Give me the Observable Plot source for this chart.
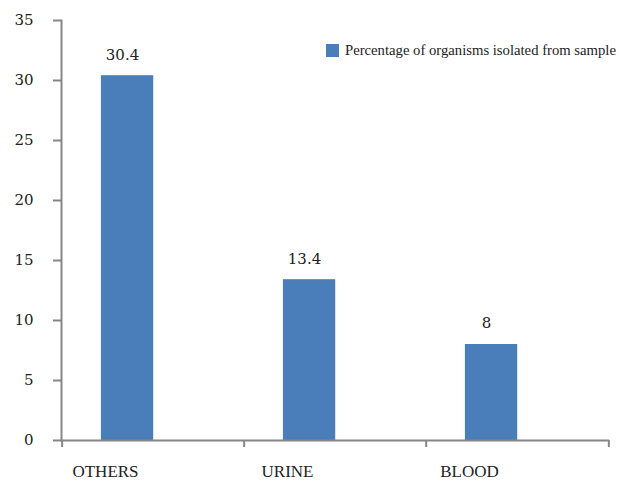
<!DOCTYPE html>
<html>
<head>
<meta charset="utf-8">
<script src="https://cdn.jsdelivr.net/npm/d3@7"></script>
<script src="https://cdn.jsdelivr.net/npm/@observablehq/plot@0.6"></script>
<style>
  html, body { margin: 0; padding: 0; background: #fff; }
  #wrap { position: relative; width: 619px; height: 481px; }
  #legend { position: absolute; left: 326px; top: 42px; display: flex; align-items: center;
            font-family: "Liberation Serif", serif; font-size: 14.7px; color: #222; white-space: nowrap; }
  #legend .sw { width: 13px; height: 13px; background: #4a7ebb; margin-right: 6px; }
</style>
</head>
<body>
<div id="wrap"><div id="legend"><div class="sw"></div><span id="legtext"></span></div></div>
<script>
const categories = ["OTHERS", "URINE", "BLOOD"];
const percentages = [30.4, 13.4, 8];
const yTicks = [0, 5, 10, 15, 20, 25, 30, 35];
const seriesName = "Percentage of organisms isolated from sample";

const data = categories.map((c, i) => ({category: c, value: percentages[i]}));

const W = 619, H = 481, mL = 61, mR = 10, mT = 20, mB = 41;
const bw = (W - mL - mR) / categories.length;
const axisColor = "#868686";
const barColor = "#4a7ebb";

const chart = Plot.plot({
  width: W, height: H,
  marginLeft: mL, marginRight: mR, marginTop: mT, marginBottom: mB,
  style: {background: "#fff", color: "#222"},
  x: {type: "band", domain: categories, padding: 0, axis: null},
  y: {domain: [0, 35], axis: null},
  marks: [
    Plot.barY(data, {x: "category", y: "value", fill: barColor,
      insetLeft: bw * 0.213, insetRight: bw * 0.497}),
    Plot.text(data, {x: "category", y: "value", text: d => String(d.value),
      dx: -31, dy: -21, lineAnchor: "middle",
      fontFamily: "DejaVu Serif", fontSize: 15, fill: "#222"}),
    Plot.frame({anchor: "left", stroke: axisColor, strokeWidth: 2}),
    Plot.ruleY([0], {stroke: axisColor, strokeWidth: 2}),
    Plot.axisY({ticks: yTicks, tickSize: 8, tickPadding: 20, stroke: axisColor, strokeWidth: 2,
      fontFamily: "DejaVu Serif", fontSize: 15, color: "#222", label: null}),
    Plot.axisX({tickSize: 7, dx: -bw / 2, tickFormat: () => "", stroke: axisColor, strokeWidth: 2, label: null}),
    Plot.axisX([categories[categories.length - 1]], {tickSize: 7, dx: bw / 2, tickFormat: () => "",
      stroke: axisColor, strokeWidth: 2, label: null}),
    Plot.axisX({tickSize: 0, tickPadding: 24, dx: -48, fontFamily: "Liberation Serif", fontSize: 17,
      color: "#222", label: null})
  ]
});
document.getElementById("wrap").prepend(chart);
document.getElementById("legtext").textContent = seriesName;
</script>
</body>
</html>
